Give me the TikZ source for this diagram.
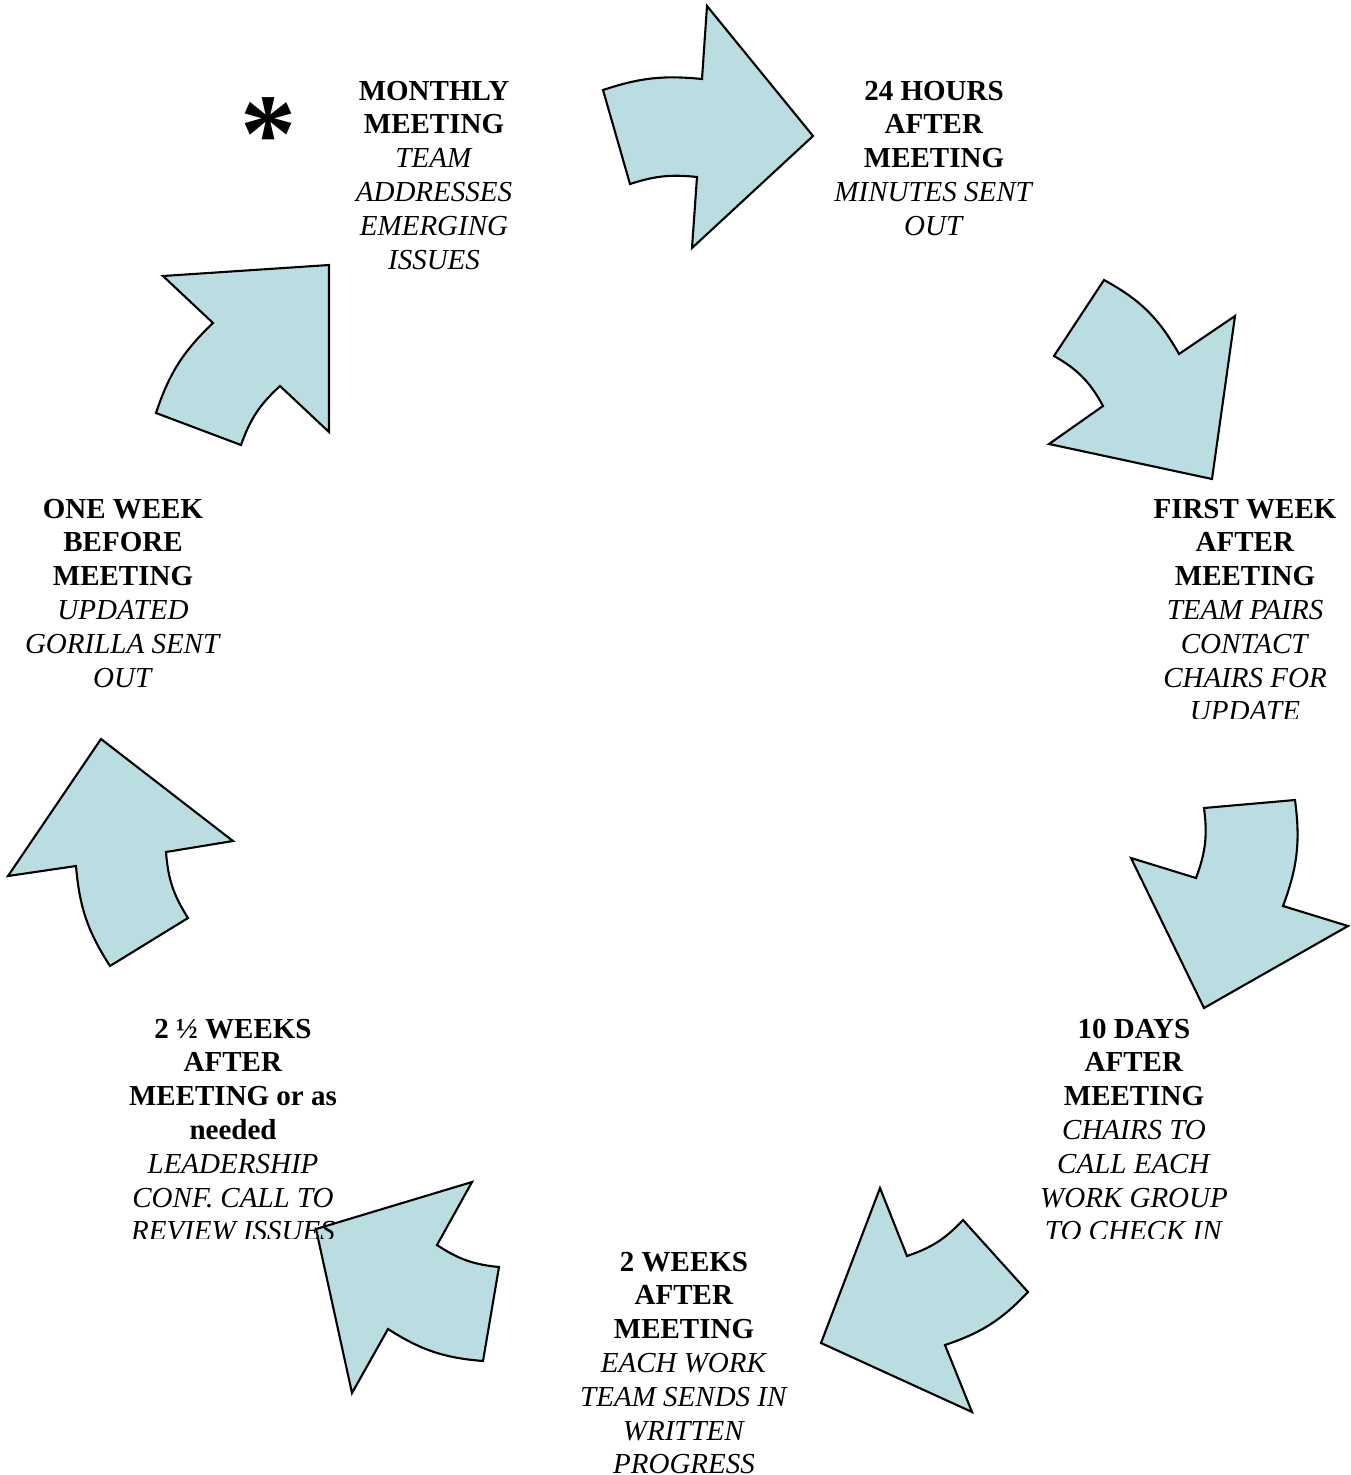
\documentclass[tikz,border=0pt]{standalone}
\usepackage{fontspec}
\setmainfont{Liberation Serif}
\definecolor{arrowfill}{RGB}{185,221,225}
\begin{document}
\begin{tikzpicture}[x=1pt,y=-1pt,
  cyc/.style={draw=black,line width=2.1pt,fill=arrowfill,line join=miter},
  lbl/.style={anchor=base,align=center,font=\fontsize{29}{33.8}\selectfont,inner sep=0pt}]
\useasboundingbox (0,0) rectangle (1351,1475);

% arrow 1 (top)
\draw[cyc] (603,90) to[bend left=12] (702,79) -- (707,6) -- (813,136) -- (692,248) -- (697,177) to[bend right=12] (630,184) -- cycle;
% arrow 2 (upper right)
\draw[cyc] (1104,280) to[bend left=16] (1179,354) -- (1235,316) -- (1212,479) -- (1049,444) -- (1103,406) to[bend right=16] (1054,356) -- cycle;
% arrow 3 (right)
\draw[cyc] (1204,808) -- (1295,800) to[bend left=14] (1283,906) -- (1348,926) -- (1204,1008) -- (1131,858) -- (1196,878) to[bend right=14] cycle;
% arrow 4 (bottom right)
\draw[cyc] (880,1188) -- (907,1256) to[bend right=14] (963,1220) -- (1028,1292) to[bend left=14] (945,1345) -- (972,1412) -- (821,1343) -- cycle;
% arrow 5 (bottom left)
\draw[cyc] (472,1182) -- (316,1229) -- (352,1393) -- (388,1329) to[bend right=14] (483,1361) -- (499,1267) to[bend left=14] (437,1245) -- cycle;
% arrow 6 (left)
\draw[cyc] (101,739) -- (233,841) -- (166,852) to[bend right=14] (188,918) -- (110,966) to[bend left=14] (76,866) -- (8,876) -- cycle;
% arrow 7 (upper left)
\draw[cyc] (163,276) -- (329,265) -- (329,432) -- (280,386) to[bend right=14] (241,445) -- (156,413) to[bend left=14] (213,323) -- cycle;

\node[anchor=base,inner sep=0pt,font=\fontsize{112}{112}\selectfont\bfseries] (star) at (268,171) {*};

% base anchor = baseline of the last line
\node[lbl] (monthly) at (434,269) {\textbf{MONTHLY}\\\textbf{MEETING}\\\textit{TEAM}\\\textit{ADDRESSES}\\\textit{EMERGING}\\\textit{ISSUES}};
\node[lbl] (hours) at (934,235.2) {\textbf{24 HOURS}\\\textbf{AFTER}\\\textbf{MEETING}\\\textit{MINUTES SENT}\\\textit{OUT}};
\begin{scope}
\clip (1100,470) rectangle (1351,718);
\node[lbl] (firstweek) at (1245,720.8) {\textbf{FIRST WEEK}\\\textbf{AFTER}\\\textbf{MEETING}\\\textit{TEAM PAIRS}\\\textit{CONTACT}\\\textit{CHAIRS FOR}\\\textit{UPDATE}};
\end{scope}
\begin{scope}
\clip (1000,1000) rectangle (1280,1238);
\node[lbl] (tendays) at (1134,1240.8) {\textbf{10 DAYS}\\\textbf{AFTER}\\\textbf{MEETING}\\\textit{CHAIRS TO}\\\textit{CALL EACH}\\\textit{WORK GROUP}\\\textit{TO CHECK IN}};
\end{scope}
\begin{scope}
\clip (500,1230) rectangle (870,1473);
\node[lbl] (twoweeks) at (684,1473.8) {\textbf{2 WEEKS}\\\textbf{AFTER}\\\textbf{MEETING}\\\textit{EACH WORK}\\\textit{TEAM SENDS IN}\\\textit{WRITTEN}\\\textit{PROGRESS}};
\end{scope}
\begin{scope}
\clip (90,1000) rectangle (380,1238);
\node[lbl] (halfweeks) at (233,1240.8) {\textbf{2 ½ WEEKS}\\\textbf{AFTER}\\\textbf{MEETING or as}\\\textbf{needed}\\\textit{LEADERSHIP}\\\textit{CONF. CALL TO}\\\textit{REVIEW ISSUES}};
\end{scope}
\node[lbl] (oneweek) at (123,687) {\textbf{ONE WEEK}\\\textbf{BEFORE}\\\textbf{MEETING}\\\textit{UPDATED}\\\textit{GORILLA SENT}\\\textit{OUT}};
\end{tikzpicture}
\end{document}
